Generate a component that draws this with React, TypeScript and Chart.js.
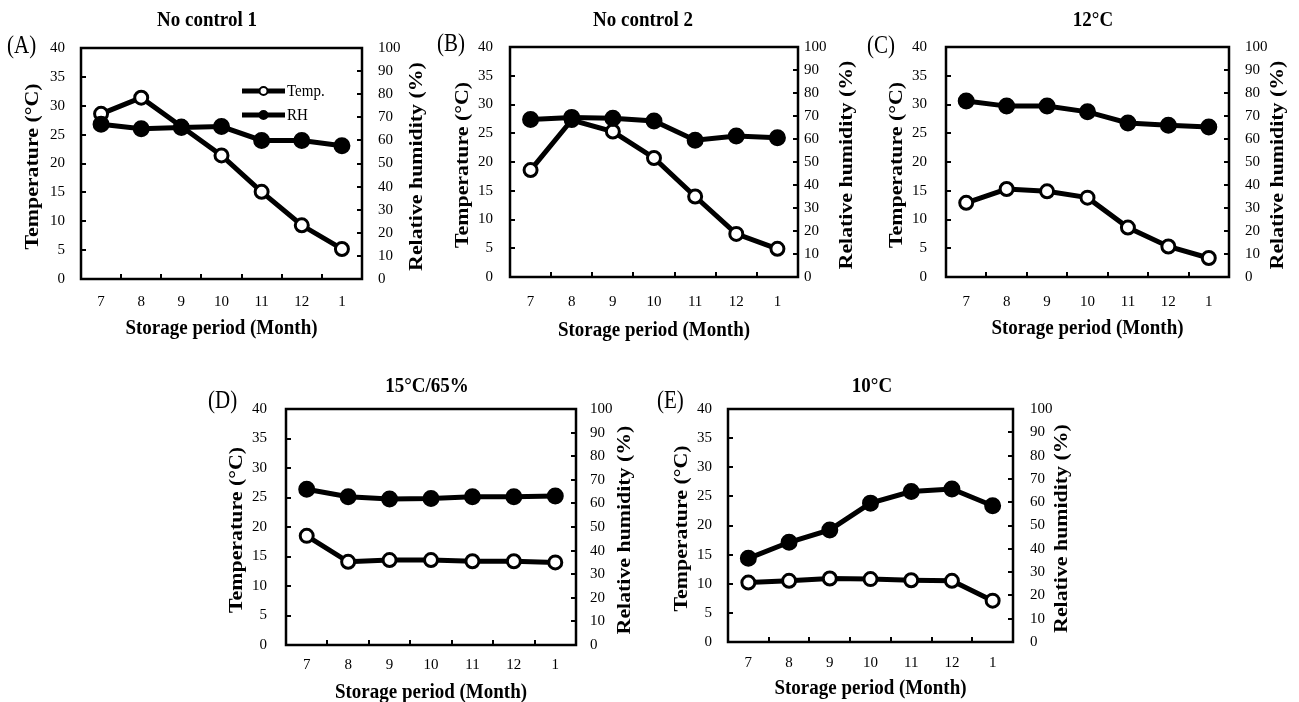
import React, { useEffect, useRef } from 'react';
import { Chart, registerables } from 'chart.js';

Chart.register(...registerables);

const FONT = '"Liberation Serif", "Times New Roman", Times, serif';

// ---- data ----
const months = ['7', '8', '9', '10', '11', '12', '1'];

const tempNoControl1 = [28.6, 31.4, 26.4, 21.4, 15.1, 9.3, 5.2];
const rhNoControl1 = [67.0, 65.0, 65.6, 66.0, 60.0, 60.0, 57.7];

const tempNoControl2 = [18.6, 27.3, 25.3, 20.7, 14.0, 7.5, 4.9];
const rhNoControl2 = [68.5, 69.4, 69.0, 67.8, 59.5, 61.3, 60.5];

const temp12C = [12.9, 15.3, 14.9, 13.8, 8.6, 5.3, 3.3];
const rh12C = [76.5, 74.3, 74.3, 71.8, 67.0, 66.0, 65.2];

const temp15C65 = [18.5, 14.1, 14.4, 14.4, 14.2, 14.2, 14.0];
const rh15C65 = [66.0, 62.8, 61.9, 62.1, 62.8, 62.8, 63.1];

const temp10C = [10.2, 10.5, 10.9, 10.8, 10.6, 10.5, 7.1];
const rh10C = [35.9, 42.8, 48.1, 59.6, 64.6, 65.7, 58.5];

const tempTitle = 'Temperature (°C)';
const rhTitle = 'Relative humidity (%)';
const xTitle = 'Storage period (Month)';

// ---- layout (page coordinates) ----
type Panel = {
  title: string;
  letter: string;
  temp: number[];
  rh: number[];
  legend: boolean;
  canvas: { x: number; y: number; w: number; h: number };
  plot: { l: number; r: number; t: number; b: number };
  leftGap: number;
  rightGap: number;
  leftTitleX: number;
  rightTitleX: number;
  xLabelY: number;
  xTitleY: number;
  titleX: number;
  titleY: number;
  letterX: number;
  letterY: number;
};

const panels: Panel[] = [
  {
    title: 'No control 1', letter: '(A)', temp: tempNoControl1, rh: rhNoControl1, legend: true,
    canvas: { x: 0, y: 0, w: 430, h: 345 }, plot: { l: 81, r: 362, t: 48, b: 279 },
    leftGap: 16, rightGap: 16, leftTitleX: 33, rightTitleX: 417, xLabelY: 302, xTitleY: 328,
    titleX: 207, titleY: 20, letterX: 7, letterY: 47,
  },
  {
    title: 'No control 2', letter: '(B)', temp: tempNoControl2, rh: rhNoControl2, legend: false,
    canvas: { x: 430, y: 0, w: 430, h: 345 }, plot: { l: 510, r: 798, t: 47, b: 277 },
    leftGap: 17, rightGap: 6, leftTitleX: 463, rightTitleX: 847, xLabelY: 302, xTitleY: 330,
    titleX: 643, titleY: 20, letterX: 437, letterY: 45,
  },
  {
    title: '12°C', letter: '(C)', temp: temp12C, rh: rh12C, legend: false,
    canvas: { x: 860, y: 0, w: 439, h: 345 }, plot: { l: 946, r: 1229, t: 47, b: 277 },
    leftGap: 19, rightGap: 16, leftTitleX: 897, rightTitleX: 1278, xLabelY: 302, xTitleY: 328,
    titleX: 1093, titleY: 20, letterX: 867, letterY: 47,
  },
  {
    title: '15°C/65%', letter: '(D)', temp: temp15C65, rh: rh15C65, legend: false,
    canvas: { x: 190, y: 370, w: 455, h: 332 }, plot: { l: 286, r: 576, t: 409, b: 645 },
    leftGap: 19, rightGap: 14, leftTitleX: 237, rightTitleX: 625, xLabelY: 665, xTitleY: 692,
    titleX: 427, titleY: 386, letterX: 208, letterY: 402,
  },
  {
    title: '10°C', letter: '(E)', temp: temp10C, rh: rh10C, legend: false,
    canvas: { x: 645, y: 370, w: 455, h: 332 }, plot: { l: 728, r: 1013, t: 409, b: 642 },
    leftGap: 16, rightGap: 17, leftTitleX: 682, rightTitleX: 1062, xLabelY: 663, xTitleY: 688,
    titleX: 872, titleY: 386, letterX: 657, letterY: 402,
  },
];

const STRETCH = 1.15;

function drawText(
  ctx: CanvasRenderingContext2D,
  text: string,
  x: number,
  y: number,
  font: string,
  align: CanvasTextAlign,
  rotated: boolean
) {
  ctx.save();
  ctx.translate(x, y);
  if (rotated) {
    ctx.rotate(-Math.PI / 2);
    ctx.scale(STRETCH, 1);
  } else {
    ctx.scale(1, STRETCH);
  }
  ctx.font = font;
  ctx.textAlign = align;
  ctx.textBaseline = 'middle';
  ctx.fillStyle = '#000';
  ctx.fillText(text, 0, 0);
  ctx.restore();
}

function PanelChart({ p }: { p: Panel }) {
  const ref = useRef<HTMLCanvasElement>(null);

  useEffect(() => {
    const cv = ref.current;
    if (!cv) return;
    const ox = p.canvas.x;
    const oy = p.canvas.y;
    const TL = -5;
    const tickFont = { family: FONT, size: 15, lineHeight: 1 };
    const gridStyle = {
      display: true,
      drawOnChartArea: false,
      drawTicks: true,
      tickLength: TL,
      color: '#000',
      lineWidth: 2,
    };

    const deco = {
      id: 'deco',
      afterDraw(chart: any) {
        const ctx: CanvasRenderingContext2D = chart.ctx;
        const a = chart.chartArea;
        ctx.save();
        ctx.strokeStyle = '#000';
        ctx.lineWidth = 2.5;
        ctx.strokeRect(a.left, a.top, a.right - a.left, a.bottom - a.top);
        ctx.restore();

        const midY = (a.top + a.bottom) / 2 + 3;
        const bold = `bold 19px ${FONT}`;
        drawText(ctx, p.title, p.titleX - ox, p.titleY - oy, bold, 'center', false);
        drawText(ctx, p.letter, p.letterX - ox, p.letterY - oy, `21px ${FONT}`, 'left', false);
        drawText(ctx, tempTitle, p.leftTitleX - ox, midY, bold, 'center', true);
        drawText(ctx, rhTitle, p.rightTitleX - ox, midY, bold, 'center', true);
        drawText(ctx, xTitle, (a.left + a.right) / 2, p.xTitleY - oy, bold, 'center', false);

        if (p.legend) {
          const items = chart.data.datasets;
          const rows = [91, 115];
          items.forEach((ds: any, i: number) => {
            const y = rows[i] - oy;
            const x1 = 242 - ox;
            const x2 = 285 - ox;
            ctx.save();
            ctx.strokeStyle = ds.borderColor;
            ctx.lineWidth = ds.borderWidth;
            ctx.beginPath();
            ctx.moveTo(x1, y);
            ctx.lineTo(x2, y);
            ctx.stroke();
            ctx.beginPath();
            ctx.arc((x1 + x2) / 2, y, 4, 0, Math.PI * 2);
            ctx.fillStyle = ds.pointBackgroundColor;
            ctx.fill();
            ctx.lineWidth = 2;
            ctx.strokeStyle = ds.pointBorderColor;
            ctx.stroke();
            ctx.restore();
            drawText(ctx, ds.label, 287 - ox, y, `15px ${FONT}`, 'left', false);
          });
        }
      },
    };

    const chart = new Chart(cv, {
      type: 'line',
      data: {
        labels: months,
        datasets: [
          {
            label: 'Temp.',
            data: p.temp,
            yAxisID: 'y',
            borderColor: '#000',
            borderWidth: 5,
            pointRadius: 6.5,
            pointBorderWidth: 3,
            pointBackgroundColor: '#fff',
            pointBorderColor: '#000',
            tension: 0,
            order: 1,
          },
          {
            label: 'RH',
            data: p.rh,
            yAxisID: 'y1',
            borderColor: '#000',
            borderWidth: 5,
            pointRadius: 7.5,
            pointBorderWidth: 2,
            pointBackgroundColor: '#000',
            pointBorderColor: '#000',
            tension: 0,
            order: 0,
          },
        ],
      },
      options: {
        animation: false,
        responsive: false,
        devicePixelRatio: 1,
        layout: { padding: { top: p.plot.t - oy, left: 0, right: 0, bottom: 0 } },
        plugins: { legend: { display: false }, tooltip: { enabled: false }, title: { display: false } },
        scales: {
          x: {
            type: 'category',
            offset: true,
            grid: { ...gridStyle, offset: true },
            border: { display: false },
            ticks: {
              font: tickFont,
              color: '#000',
              padding: p.xLabelY - p.plot.b + 5 - 7.5,
              maxRotation: 0,
              autoSkip: false,
            },
            afterFit: (s: any) => {
              s.height = p.canvas.y + p.canvas.h - p.plot.b;
            },
          },
          y: {
            position: 'left',
            min: 0,
            max: 40,
            grid: gridStyle,
            border: { display: false },
            ticks: { stepSize: 5, font: tickFont, color: '#000', padding: p.leftGap + 5 },
            afterFit: (s: any) => {
              s.width = p.plot.l - ox;
            },
          },
          y1: {
            position: 'right',
            min: 0,
            max: 100,
            grid: gridStyle,
            border: { display: false },
            ticks: { stepSize: 10, font: tickFont, color: '#000', padding: p.rightGap + 5 },
            afterFit: (s: any) => {
              s.width = ox + p.canvas.w - p.plot.r;
            },
          },
        },
      } as any,
      plugins: [deco],
    });

    return () => chart.destroy();
  }, [p]);

  return (
    <canvas
      ref={ref}
      width={p.canvas.w}
      height={p.canvas.h}
      style={{
        position: 'absolute',
        left: p.canvas.x,
        top: p.canvas.y,
        width: p.canvas.w,
        height: p.canvas.h,
      }}
    />
  );
}

export default function App() {
  return (
    <div
      style={{
        position: 'absolute',
        left: 0,
        top: 0,
        width: 1299,
        height: 702,
        background: '#fff',
        overflow: 'hidden',
      }}
    >
      {panels.map((p, i) => (
        <PanelChart key={i} p={p} />
      ))}
    </div>
  );
}
